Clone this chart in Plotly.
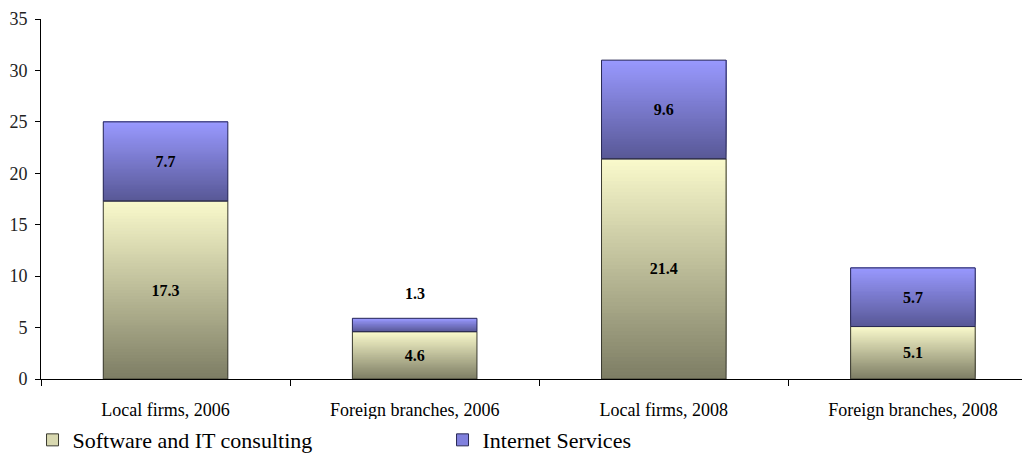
import plotly.graph_objects as go

categories = ["Local firms, 2006", "Foreign branches, 2006", "Local firms, 2008", "Foreign branches, 2008"]
software = [17.3, 4.6, 21.4, 5.1]
internet = [7.7, 1.3, 9.6, 5.7]
series_names = ["Software and IT consulting", "Internet Services"]

FONT = "Liberation Serif"
N = 60

def lerp(c1, c2, t):
    return "rgb(%d,%d,%d)" % tuple(round(a + (b - a) * t) for a, b in zip(c1, c2))

styles = [
    dict(top=(250, 250, 204), bottom=(125, 125, 100), line="#3a3a30", legend="#d8d8b0"),
    dict(top=(153, 153, 255), bottom=(88, 88, 150), line="#2a2a55", legend="#8080dd"),
]

fig = go.Figure()
bases_all = [[0] * 4, software]
vals_all = [software, internet]

# gradient fill: slices drawn bottom-up, each reaching the segment top (no seams)
for s in range(2):
    vals = vals_all[s]
    base = bases_all[s]
    st = styles[s]
    xs, ys, bs, cs = [], [], [], []
    for k in range(N):
        t = (k + 0.5) / N
        col = lerp(st["bottom"], st["top"], t)
        for i, c in enumerate(categories):
            xs.append(c)
            ys.append(vals[i] * (N - k) / N)
            bs.append(base[i] + vals[i] * k / N)
            cs.append(col)
    fig.add_trace(go.Bar(x=xs, y=ys, base=bs, width=0.5, marker=dict(color=cs, line=dict(width=0)),
                         showlegend=False, hoverinfo="skip"))

# outlines + value labels
label_font = dict(family=FONT, size=16, color="black", weight="bold")
for s in range(2):
    vals = vals_all[s]
    base = bases_all[s]
    st = styles[s]
    texts = ["%.1f" % v for v in vals]
    if s == 1:
        texts[1] = ""
    fig.add_trace(go.Bar(x=categories, y=vals, base=base, width=0.5,
                         marker=dict(color="rgba(0,0,0,0)", line=dict(color=st["line"], width=1)),
                         text=texts, textposition="inside", insidetextanchor="middle",
                         textfont=label_font, showlegend=False))

# small segment label placed above its bar
fig.add_annotation(x=categories[1], y=software[1] + internet[1], text="%.1f" % internet[1],
                   showarrow=False, yanchor="bottom", yshift=14, font=label_font)

# legend entries
for s in range(2):
    st = styles[s]
    fig.add_trace(go.Bar(x=[categories[0]], y=[None], name=series_names[s],
                         marker=dict(color=st["legend"], line=dict(color=st["line"], width=1))))

# page body adds an 8px margin, so the figure is sized/offset to compensate
fig.update_layout(
    width=1022, height=451,
    margin=dict(l=33, r=0, t=11, b=80, autoexpand=False),
    plot_bgcolor="white", paper_bgcolor="white",
    barmode="overlay",
    font=dict(family=FONT, size=18, color="#222"),
    legend=dict(orientation="h", xref="container", yref="container",
                x=0.024, y=0.042, xanchor="left", yanchor="middle",
                font=dict(family=FONT, size=22, color="black"),
                entrywidth=365, entrywidthmode="pixels", traceorder="normal"),
    xaxis=dict(range=[-0.5, 3.47], showline=True, linecolor="black", linewidth=1,
               ticks="outside", tickson="boundaries", ticklen=6, tickcolor="black",
               showgrid=False, automargin=False, ticklabelstandoff=14,
               tickfont=dict(family=FONT, size=18, color="black")),
    yaxis=dict(range=[0, 35], dtick=5, showline=True, linecolor="black", linewidth=1,
               ticks="outside", ticklen=5, tickcolor="black", showgrid=False, zeroline=False,
               automargin=False, ticklabelstandoff=4,
               tickfont=dict(family=FONT, size=18, color="#222")),
)

fig.write_html("out.html")
